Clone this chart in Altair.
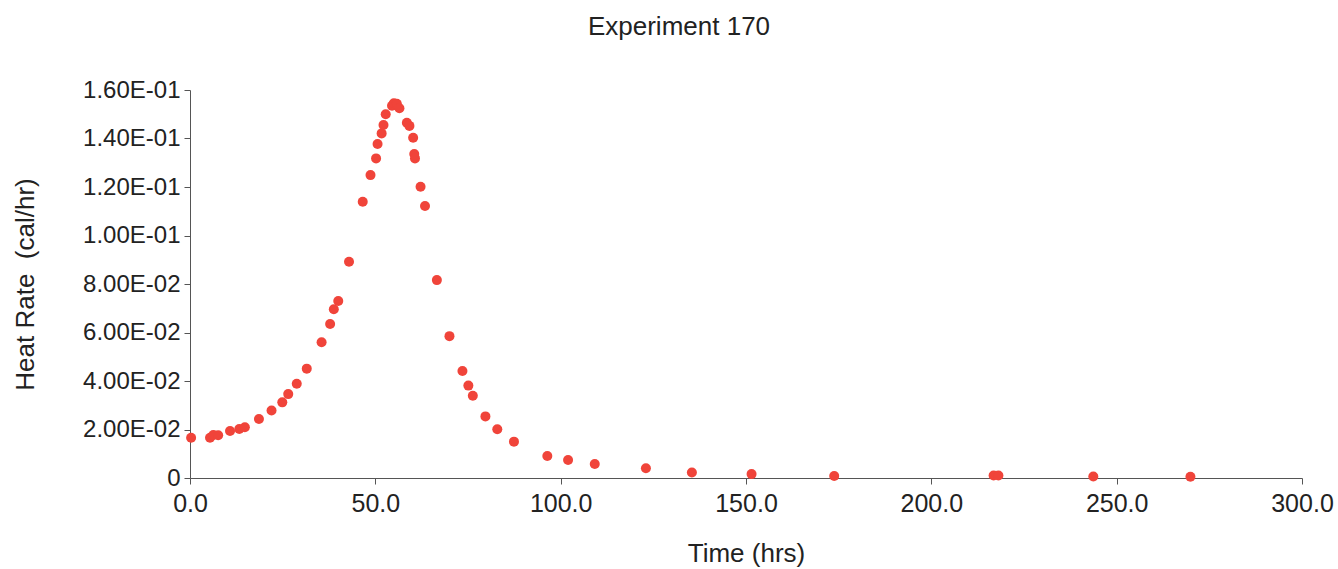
import altair as alt
import pandas as pd

time_hrs = [0.3, 5.4, 6.3, 7.6, 10.8, 13.3, 14.8, 18.6, 22.0, 24.9, 26.5, 28.8, 31.5,
            35.5, 37.8, 38.8, 40.0, 42.9, 46.6, 48.7, 50.2, 50.6, 51.7, 52.2, 52.8,
            54.5, 55.0, 55.8, 56.5, 58.5, 59.2, 60.2, 60.5, 60.7, 62.2, 63.4, 66.6,
            70.0, 73.5, 75.1, 76.3, 79.7, 82.9, 87.4, 96.4, 102.0, 109.2, 123.0,
            135.4, 151.5, 173.8, 216.8, 218.1, 243.7, 269.9]
heat_rate = [0.0166, 0.0166, 0.0177, 0.0176, 0.0194, 0.0202, 0.0209, 0.0243, 0.0278,
             0.0312, 0.0346, 0.0389, 0.0451, 0.0560, 0.0635, 0.0696, 0.0730, 0.0892,
             0.1139, 0.1249, 0.1318, 0.1377, 0.1421, 0.1456, 0.1500, 0.1535, 0.1545,
             0.1543, 0.1525, 0.1465, 0.1452, 0.1403, 0.1336, 0.1318, 0.1201, 0.1122,
             0.0816, 0.0585, 0.0441, 0.0381, 0.0339, 0.0254, 0.0201, 0.0150, 0.0091,
             0.0074, 0.0058, 0.0040, 0.0023, 0.0016, 0.0008, 0.0010, 0.0010, 0.0006,
             0.0005]

x_ticks = [0, 50, 100, 150, 200, 250, 300]
y_ticks = [0, 0.02, 0.04, 0.06, 0.08, 0.10, 0.12, 0.14, 0.16]

df = pd.DataFrame({"time": time_hrs, "rate": heat_rate})

y_label_expr = (
    "datum.value == 0 ? '0' : "
    "format(datum.value / pow(10, floor(log(datum.value) / LN10 + 1e-9)), '.2f') + 'E-' + "
    "(-floor(log(datum.value) / LN10 + 1e-9) < 10 ? '0' : '') + "
    "toString(-floor(log(datum.value) / LN10 + 1e-9))"
)

FONT = "Liberation Sans"
TXT = "#222222"
AX = "#555555"

chart = alt.Chart(df).mark_circle(size=100, color="#F0443A", opacity=1).encode(
    x=alt.X("time:Q",
            scale=alt.Scale(domain=[0, 300], nice=False),
            axis=alt.Axis(values=x_ticks, format=".1f", title="Time (hrs)",
                          grid=False, domainColor=AX, tickColor=AX, tickSize=6,
                          labelFontSize=25, labelFont=FONT, labelColor=TXT,
                          labelPadding=7, labelFlush=False,
                          titleFontSize=26, titleFont=FONT, titleColor=TXT,
                          titleFontWeight="normal", titlePadding=24)),
    y=alt.Y("rate:Q",
            scale=alt.Scale(domain=[0, 0.16], nice=False),
            axis=alt.Axis(values=y_ticks, labelExpr=y_label_expr,
                          title="Heat Rate\u00a0\u00a0(cal/hr)",
                          grid=False, domainColor=AX, tickColor=AX, tickSize=6,
                          labelFontSize=24, labelFont=FONT, labelColor=TXT,
                          labelPadding=4, labelFlush=False,
                          titleFontSize=26, titleFont=FONT, titleColor=TXT,
                          titleFontWeight="normal", titlePadding=44)),
).properties(
    width=1112,
    height=388,
    title=alt.TitleParams("Experiment 170", fontSize=26, font=FONT, color=TXT,
                          fontWeight="normal", anchor="middle", dx=-67, offset=38),
    autosize=alt.AutoSizeParams(type="none"),
    padding={"left": 190, "top": 90, "right": 36, "bottom": 91},
).configure_view(stroke=None)

chart.save("out.html", embed_options={"renderer": "svg", "actions": False})
